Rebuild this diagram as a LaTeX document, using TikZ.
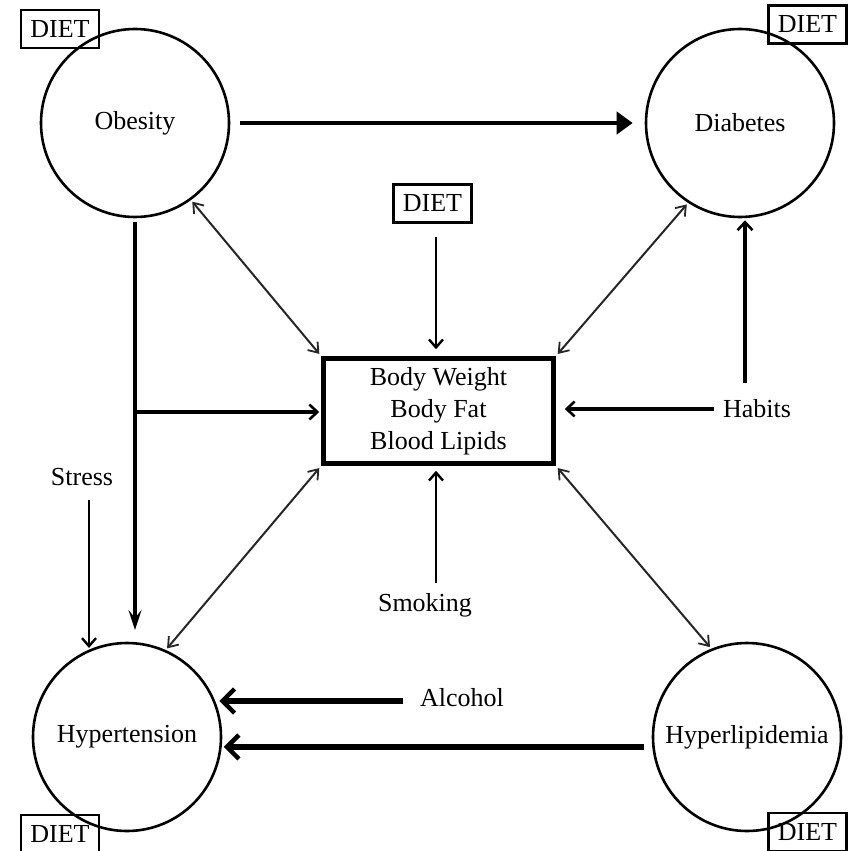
\documentclass[tikz,border=0pt]{standalone}
\usepackage{fontspec}
\setmainfont{Liberation Serif}
\usetikzlibrary{arrows.meta}
\begin{document}
\begin{tikzpicture}[x=1pt,y=-1pt,
  every node/.style={font=\fontsize{26}{31}\selectfont},
  disease/.style={circle,draw,line width=2.6pt,minimum size=188pt,inner sep=0pt},
  dietbox/.style={draw,line width=2.2pt,minimum width=78pt,minimum height=38pt,inner sep=0pt},
  central/.style={draw,line width=4.5pt,minimum width=230pt,minimum height=105pt,align=center,inner sep=0pt,font=\fontsize{26}{32}\selectfont},
  factor/.style={inner sep=0pt},
  link/.style={draw=black!85,line width=2pt,{Straight Barb[length=9pt,width=13pt,line width=1.8pt]}-{Straight Barb[length=9pt,width=13pt,line width=1.8pt]}},
  push/.style={line width=3.2pt,-{Straight Barb[length=8pt,width=15pt,line width=2.6pt]}},
  thin push/.style={line width=2.8pt,-{Straight Barb[length=8pt,width=14pt,line width=2.4pt]}},
  heavy/.style={line width=5.5pt,-{Straight Barb[length=12pt,width=24pt,line width=4.5pt]}},
]
\useasboundingbox (0,0) rectangle (851,851);

% disease circles
\node[disease] (ob) at (135,123) {Obesity};
\node[disease] (db) at (740,123) {Diabetes};
\node[disease] (ht) at (127,737) {Hypertension};
\node[disease] (hl) at (747,737) {Hyperlipidemia};

% diet boxes
\node[dietbox] (d1) at (60,29) {DIET};
\node[dietbox] (d2) at (807.5,24.5) {DIET};
\node[dietbox] (d3) at (60,834) {DIET};
\node[dietbox] (d4) at (807.5,832) {DIET};
\node[dietbox] (dc) at (432.5,203.5) {DIET};

% central measures
\node[central] (bw) at (438.5,411) {Body Weight\\Body Fat\\Blood Lipids};

% external factors
\node[factor] (hab) at (757,409) {Habits};
\node[factor] (str) at (82,477) {Stress};
\node[factor] (smk) at (425,605) {Smoking};
\node[factor] (alc) at (462,698) {Alcohol};

% free ends of connectors
\coordinate (dcs) at (436,237);
\coordinate (hup) at (745,383);
\coordinate (stf) at (89,500);
\coordinate (smf) at (436,583);
\coordinate (alf) at (403,701);
\coordinate (ovend) at (135,630);
\coordinate (br) at (135,412);

% obesity leads to diabetes
\draw[line width=4.5pt,-{Triangle[length=16pt,width=22pt]},shorten <=10pt,shorten >=12pt] (ob.east) -- (db.west);

% two-way links with the central measures
\draw[link,shorten <=2pt,shorten >=3pt] (ob.-54) -- (bw.north west);
\draw[link,shorten <=2pt,shorten >=3pt] (db.-123) -- (bw.north east);
\draw[link,shorten <=3pt,shorten >=2pt] (bw.south east) -- (hl.112);
\draw[link,shorten <=3pt,shorten >=2pt] (bw.south west) -- (ht.66);

% diet into the central measures
\draw[thin push,shorten >=7pt] (dcs) -- (dcs |- bw.north);

% obesity down to hypertension, with a branch to the centre
\draw[line width=3.4pt,-{Stealth[length=20pt,width=13pt,inset=8pt]}] ([yshift=-4pt]ob.south) -- (ovend);
\draw[push,shorten >=2pt] (br) -- (br -| bw.west);

% habits
\draw[push,shorten <=9pt,shorten >=9pt] (hab.west) -- (hab.west -| bw.east);
\draw[push,shorten >=2pt] (hup) -- (hup |- db.south);

% stress
\draw[thin push,shorten >=2pt] (stf) -- (stf |- ht.114);

% smoking
\draw[thin push,shorten >=5pt] (smf) -- (smf |- bw.south);

% alcohol and hyperlipidemia into hypertension
\draw[heavy,shorten >=4pt] (alf) -- (alf -| ht.22.5);
\draw[heavy,shorten <=8pt,shorten >=2pt] (hl.186) -- (hl.186 -| ht.-6);
\end{tikzpicture}
\end{document}
